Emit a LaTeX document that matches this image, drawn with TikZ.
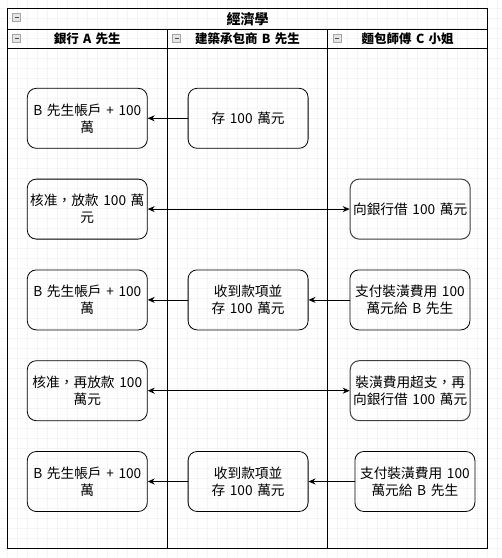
\documentclass[tikz,border=0pt]{standalone}
\usepackage{fontspec}
\setmainfont{Noto Sans CJK TC}[WordSpace=1.5]
\usetikzlibrary{arrows.meta,positioning}

\begin{document}
\begin{tikzpicture}[
    x=1pt, y=-1pt,
    >={Stealth[length=7pt,width=6pt]},
    node distance=30pt and 40pt,
    gridline/.style={gray!9, line width=0.5pt},
    lane/.style={draw, line width=0.9pt},
    act/.style={draw, rounded corners=9pt, line width=0.8pt,
                minimum width=120pt, minimum height=60pt, inner sep=1pt,
                align=center, font=\fontsize{13.7}{17}\selectfont},
    loan/.style={act, draw=black!75, line width=1pt},
    hdr/.style={font=\fontsize{12.5}{15}\selectfont\bfseries},
    fold/.style={draw=gray!70, fill=gray!20, minimum size=8pt, inner sep=0pt,
                 path picture={\draw[black!70, line width=0.8pt]
                   ([xshift=2pt]path picture bounding box.west) --
                   ([xshift=-2pt]path picture bounding box.east);}},
    flow/.style={->, line width=0.8pt},
    both/.style={<->, line width=0.8pt}
  ]

  \useasboundingbox (0,0) rectangle (502,558);
  \fill[white] (0,0) rectangle (502,558);

  %% Background grid
  \foreach \gx in {7.3,17.3,...,500} \draw[gridline] (\gx,0) -- (\gx,558);
  \foreach \gy in {8.3,18.3,...,558} \draw[gridline] (0,\gy) -- (502,\gy);

  %% Pool and lanes
  \draw[lane] (7.3,8.3) rectangle (487.7,548.3);
  \draw[lane] (7.3,29) -- (487.7,29);
  \draw[lane] (7.3,48.3) -- (487.7,48.3);
  \draw[lane] (167.3,29) -- (167.3,548.3);
  \draw[lane] (327.7,29) -- (327.7,548.3);

  \node (pool)  [hdr, font=\fontsize{14}{16}\selectfont\bfseries] at (247.5,18.7) {經濟學};
  \node (laneA) [hdr] at (87.3,38.7)  {銀行 A 先生};
  \node (laneB) [hdr] at (247.5,38.7) {建築承包商 B 先生};
  \node (laneC) [hdr] at (407.7,38.7) {麵包師傅 C 小姐};

  \node (fold0) [fold] at (16.5,17.2)  {};
  \node (foldA) [fold] at (16.5,38.6)  {};
  \node (foldB) [fold] at (176.5,38.6) {};
  \node (foldC) [fold] at (336.8,38.6) {};

  %% Bank A
  \node (a1) [act] at (87.3,118.3) {B 先生帳戶 + 100\\萬};
  \node (a2) [act, below=30pt of a1] {核准，放款 100 萬\\元};
  \node (a3) [act, below=30pt of a2] {B 先生帳戶 + 100\\萬};
  \node (a4) [act, below=30pt of a3] {核准，再放款 100\\萬元};
  \node (a5) [act, below=30pt of a4] {B 先生帳戶 + 100\\萬};

  %% Builder B
  \node (b1) [act, right=40pt of a1] {存 100 萬元};
  \node (b3) [act, right=40pt of a3] {收到款項並\\存 100 萬元};
  \node (b5) [act, right=40pt of a5] {收到款項並\\存 100 萬元};

  %% Baker C
  \node (c2) [loan, right=202pt of a2] {向銀行借 100 萬元};
  \node (c3) [act,  right=41pt of b3]  {支付裝潢費用 100\\萬元給 B 先生};
  \node (c4) [loan, right=202pt of a4] {裝潢費用超支，再\\向銀行借 100 萬元};
  \node (c5) [act,  right=46pt of b5]  {支付裝潢費用 100\\萬元給 B 先生};

  %% Money flows
  \draw[flow] (b1) -- (a1);
  \draw[both] (a2) -- (c2);
  \draw[flow] (c3) -- (b3);
  \draw[flow] (b3) -- (a3);
  \draw[both] (a4) -- (c4);
  \draw[flow] (c5) -- (b5);
  \draw[flow] (b5) -- (a5);

\end{tikzpicture}
\end{document}
